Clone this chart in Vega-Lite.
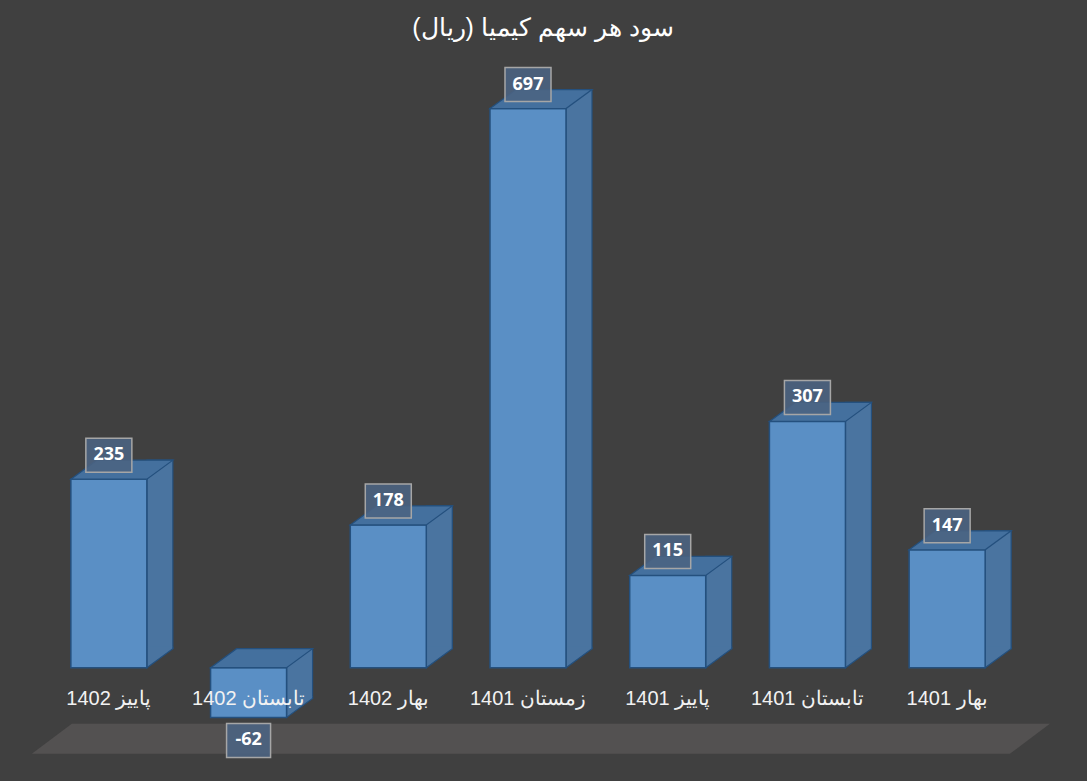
{
  "$schema": "https://vega.github.io/schema/vega-lite/v6.json",
  "autosize": "none",
  "width": 978,
  "height": 746,
  "padding": {"left": 39, "top": 34, "right": 70, "bottom": 1},
  "background": "#404040",
  "config": {"view": {"stroke": null}},
  "title": {
    "text": "سود هر سهم کیمیا (ریال)\u200f",
    "font": "Liberation Sans",
    "fontSize": 25,
    "fontWeight": "normal",
    "color": "#ffffff",
    "anchor": "middle",
    "dx": 15,
    "baseline": "middle",
    "offset": -19
  },
  "data": {
    "values": [
      {"q": "پاییز 1402", "v": 235},
      {"q": "تابستان 1402", "v": -62},
      {"q": "بهار 1402", "v": 178},
      {"q": "زمستان 1401", "v": 697},
      {"q": "پاییز 1401", "v": 115},
      {"q": "تابستان 1401", "v": 307},
      {"q": "بهار 1401", "v": 147}
    ]
  },
  "encoding": {
    "x": {
      "field": "q",
      "type": "nominal",
      "sort": null,
      "axis": null,
      "scale": {
        "domain": ["پاییز 1402", "تابستان 1402", "بهار 1402", "زمستان 1401", "پاییز 1401", "تابستان 1401", "بهار 1401"],
        "paddingInner": 0.457,
        "paddingOuter": 0.2285
      }
    }
  },
  "resolve": {"scale": {"y": "shared"}},
  "layer": [
    {
      "data": {"values": [{"q": "پاییز 1402"}]},
      "mark": {"type": "point", "shape": "M-37,0L941,0L901,30L-77,30Z", "size": 4, "filled": true, "fill": "#535151", "strokeWidth": 0, "opacity": 1},
      "encoding": {"y": {"datum": -70, "type": "quantitative", "scale": {"domain": [-140, 790], "nice": false, "zero": false}, "axis": null}}
    },
    {
      "mark": {"type": "bar", "width": 26, "xOffset": 51, "yOffset": -19, "y2Offset": -19, "fill": "#4a74a0", "stroke": "#24507e", "strokeWidth": 1.2},
      "encoding": {
        "y": {"field": "v", "type": "quantitative", "scale": {"domain": [-140, 790], "nice": false, "zero": false}, "axis": null},
        "y2": {"datum": 0}
      }
    },
    {
      "transform": [{"filter": "datum.v >= 0"}],
      "mark": {"type": "point", "shape": "M38,-21L38,0L64,-19L64,-21", "size": 4, "filled": true, "fill": "#4a74a0", "stroke": "#24507e", "strokeWidth": 1.2, "opacity": 1},
      "encoding": {"y": {"datum": 0, "type": "quantitative"}}
    },
    {
      "transform": [{"filter": "datum.v < 0"}],
      "mark": {"type": "point", "shape": "M38,-21L38,0L64,-19L64,-21", "size": 4, "filled": true, "fill": "#4a74a0", "stroke": "#24507e", "strokeWidth": 1.2, "opacity": 1},
      "encoding": {"y": {"field": "v", "type": "quantitative"}}
    },
    {
      "mark": {"type": "bar", "width": 76, "fill": "#5a8fc5", "stroke": "#24507e", "strokeWidth": 1.5},
      "encoding": {
        "y": {"field": "v", "type": "quantitative"},
        "y2": {"datum": 0}
      }
    },
    {
      "transform": [{"filter": "datum.v >= 0"}],
      "mark": {"type": "point", "shape": "M-38,0L-12,-19L64,-19L38,0Z", "size": 4, "filled": true, "fill": "#44709e", "stroke": "#24507e", "strokeWidth": 1.2, "opacity": 1},
      "encoding": {"y": {"field": "v", "type": "quantitative"}}
    },
    {
      "transform": [{"filter": "datum.v < 0"}],
      "mark": {"type": "point", "shape": "M-38,0L-12,-19L64,-19L38,0Z", "size": 4, "filled": true, "fill": "#44709e", "stroke": "#24507e", "strokeWidth": 1.2, "opacity": 1},
      "encoding": {"y": {"datum": 0, "type": "quantitative"}}
    },
    {
      "mark": {"type": "text", "font": "Liberation Sans", "fontSize": 20, "color": "#f2f2f2", "baseline": "middle", "dy": 31},
      "encoding": {
        "y": {"datum": 0, "type": "quantitative"},
        "text": {"field": "q"}
      }
    },
    {
      "transform": [{"filter": "datum.v >= 0"}],
      "layer": [
        {
          "mark": {"type": "point", "shape": "M-23,-17L23,-17L23,17L-23,17Z", "size": 4, "filled": true, "fill": "#4b6382", "fillOpacity": 0.88, "stroke": "#a6a6a6", "strokeWidth": 1.5, "opacity": 1, "yOffset": -24},
          "encoding": {"y": {"field": "v", "type": "quantitative"}}
        },
        {
          "mark": {"type": "text", "font": "Open Sans", "fontSize": 18, "fontWeight": "bold", "color": "#ffffff", "baseline": "middle", "yOffset": -24},
          "encoding": {"y": {"field": "v", "type": "quantitative"}, "text": {"field": "v"}}
        }
      ]
    },
    {
      "transform": [{"filter": "datum.v < 0"}],
      "layer": [
        {
          "mark": {"type": "point", "shape": "M-22,-17L22,-17L22,17L-22,17Z", "size": 4, "filled": true, "fill": "#4b6382", "fillOpacity": 0.88, "stroke": "#a6a6a6", "strokeWidth": 1.5, "opacity": 1, "yOffset": 23},
          "encoding": {"y": {"field": "v", "type": "quantitative"}}
        },
        {
          "mark": {"type": "text", "font": "Open Sans", "fontSize": 18, "fontWeight": "bold", "color": "#ffffff", "baseline": "middle", "yOffset": 23},
          "encoding": {"y": {"field": "v", "type": "quantitative"}, "text": {"field": "v"}}
        }
      ]
    }
  ]
}
